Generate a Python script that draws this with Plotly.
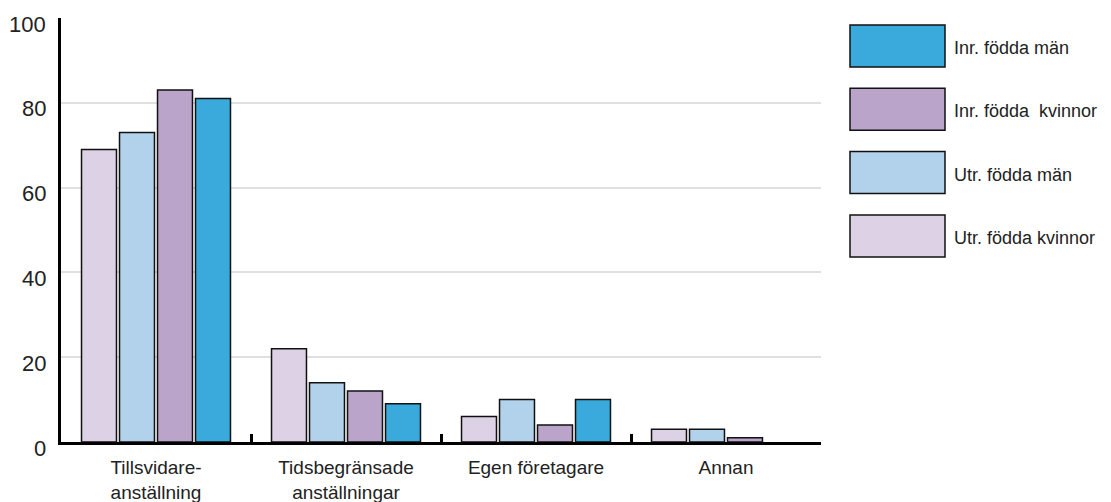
"""Anställningsform efter födelseland och kön."""

import plotly.graph_objects as go

CATEGORIES = [
    "Tillsvidare-<br>anställning",
    "Tidsbegränsade<br>anställningar",
    "Egen företagare",
    "Annan",
]

SERIES = ["Utr. födda kvinnor", "Utr. födda män", "Inr. födda  kvinnor", "Inr. födda män"]
COLORS = ["#ddd1e5", "#b2d2eb", "#baa4ca", "#3aaadc"]

UTR_KVINNOR = [69, 22, 6, 3]
UTR_MAN = [73, 14, 10, 3]
INR_KVINNOR = [83, 12, 4, 1]
INR_MAN = [81, 9, 10, None]  # ingen stapel syns för "Annan"

VALUES = [UTR_KVINNOR, UTR_MAN, INR_KVINNOR, INR_MAN]
Y_TICKS = [0, 20, 40, 60, 80, 100]

# sidan har 8px body-marginal, så figuren görs lite mindre
PAGE_PAD = 8
W, H = 1111 - PAGE_PAD, 502 - PAGE_PAD
PLOT_L, PLOT_T, PW, PH = 61, 18, 760, 424
L, T = PLOT_L - PAGE_PAD, PLOT_T - PAGE_PAD
R, B = W - L - PW, H - T - PH
FONT = "Liberation Sans, Arial, sans-serif"
TEXT = "#222222"

fig = go.Figure()
for name, color, vals in zip(SERIES, COLORS, VALUES):
    fig.add_trace(go.Bar(
        x=CATEGORIES, y=vals, name=name,
        marker=dict(color=color, line=dict(color="#111111", width=1.5)),
        showlegend=False,
    ))


def px_x(p):
    return (p - PLOT_L) / PW


def px_y(p):
    return (PLOT_T + PH - p) / PH


# Egen legend: stora rutor med text till höger
shapes, annotations = [], []
for i, (name, color) in enumerate(reversed(list(zip(SERIES, COLORS)))):
    top = 25 + i * 63.3
    shapes.append(dict(
        type="rect", xref="paper", yref="paper",
        x0=px_x(850), x1=px_x(945), y0=px_y(top + 42), y1=px_y(top),
        fillcolor=color, line=dict(color="#111111", width=1.5),
    ))
    annotations.append(dict(
        xref="paper", yref="paper", x=px_x(952), y=px_y(top + 23),
        text=name, showarrow=False, xanchor="left", yanchor="middle",
        font=dict(family=FONT, size=18, color=TEXT),
    ))

# y-etiketter sitter något under sina stödlinjer
for v in Y_TICKS:
    annotations.append(dict(
        xref="paper", yref="y", x=0, y=v, xshift=-13, yshift=-6,
        text=str(v), showarrow=False, xanchor="right", yanchor="middle",
        font=dict(family=FONT, size=22, color=TEXT),
    ))

fig.update_layout(
    width=W, height=H,
    margin=dict(l=L, r=R, t=T, b=B),
    plot_bgcolor="white", paper_bgcolor="white",
    barmode="group", bargap=0.2, bargroupgap=0.08,
    font=dict(family=FONT, color=TEXT),
    shapes=shapes, annotations=annotations,
)
fig.update_xaxes(
    type="category", tickson="boundaries", ticks="inside", ticklen=8,
    tickwidth=2.5, tickcolor="black",
    showline=True, linecolor="black", linewidth=3,
    tickfont=dict(size=19, color=TEXT), showgrid=False,
    automargin=False, ticklabelstandoff=6,
)
fig.update_yaxes(
    range=[0, 100], tickvals=Y_TICKS, showticklabels=False,
    showline=True, linecolor="black", linewidth=2.5,
    showgrid=True, gridcolor="#e0e0e0", gridwidth=1.5, zeroline=False,
    ticks="", automargin=False,
)

fig.write_html("out.html")
